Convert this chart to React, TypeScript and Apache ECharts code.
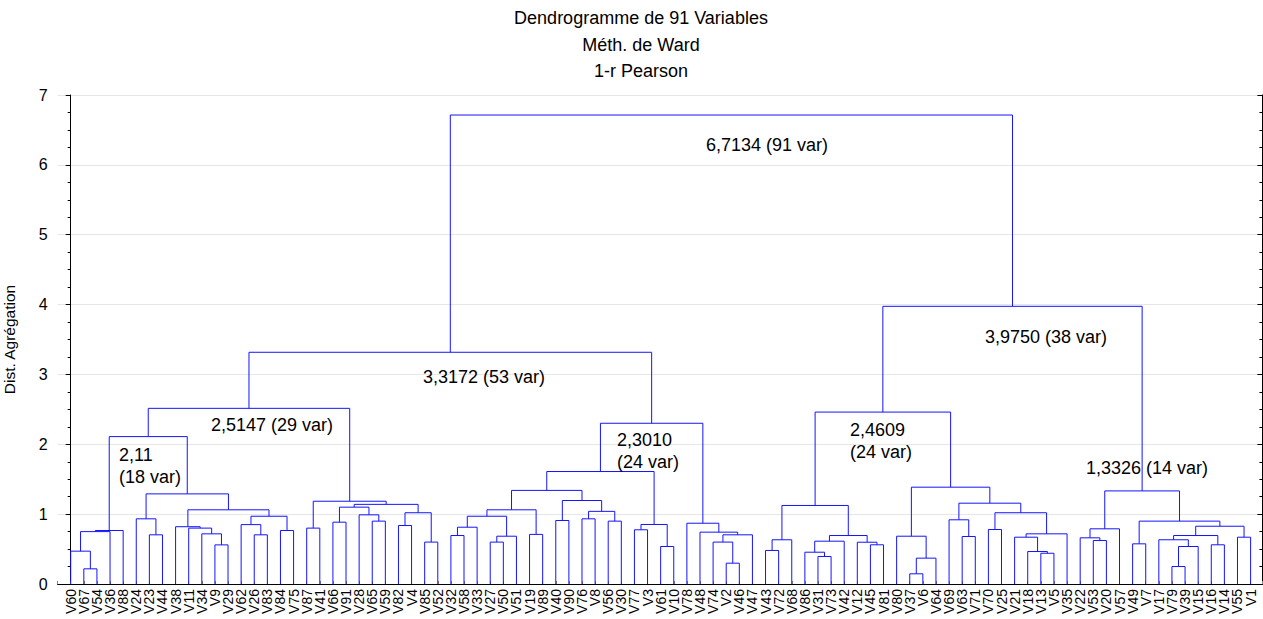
import React, { useEffect, useRef } from "react";
import * as echarts from "echarts";

// Leaf labels, in display order (left to right)
const leafLabels: string[] = [
  "V60", "V67", "V54", "V36", "V88", "V24", "V23", "V44", "V38", "V11",
  "V34", "V9", "V29", "V62", "V26", "V83", "V84", "V75", "V87", "V41",
  "V66", "V91", "V28", "V65", "V59", "V82", "V4", "V85", "V52", "V32",
  "V58", "V33", "V27", "V50", "V51", "V19", "V89", "V40", "V90", "V76",
  "V8", "V56", "V30", "V77", "V3", "V61", "V10", "V78", "V48", "V74",
  "V2", "V46", "V47", "V43", "V72", "V68", "V86", "V31", "V73", "V42",
  "V12", "V45", "V81", "V80", "V37", "V6", "V64", "V69", "V63", "V71",
  "V70", "V25", "V21", "V18", "V13", "V5", "V35", "V22", "V53", "V20",
  "V57", "V49", "V7", "V17", "V79", "V39", "V15", "V16", "V14", "V55",
  "V1",
];

// Merges: children ids (0..90 = leaves, 91+k = merge k) and linkage heights
const mergePairs: [number, number][] = [
  [1, 2], [0, 91], [92, 3], [93, 4],
  [6, 7], [5, 95],
  [11, 12], [10, 97], [9, 98], [8, 99],
  [14, 15], [13, 101], [16, 17], [102, 103], [100, 104], [96, 105], [94, 106],
  [18, 19], [20, 21], [23, 24], [22, 110], [109, 111], [25, 26], [27, 28],
  [113, 114], [112, 115], [108, 116], [107, 117],
  [29, 30], [119, 31], [32, 33], [121, 34], [120, 122], [35, 36], [123, 124],
  [37, 38], [39, 40], [41, 42], [127, 128], [126, 129], [125, 130],
  [43, 44], [45, 46], [132, 133], [131, 134],
  [50, 51], [49, 136], [137, 52], [48, 138], [47, 139], [135, 140], [118, 141],
  [53, 54], [143, 55], [57, 58], [56, 145], [146, 59], [61, 62], [60, 148],
  [147, 149], [144, 150],
  [64, 65], [152, 66], [63, 153], [68, 69], [67, 155], [70, 71], [74, 75],
  [73, 158], [72, 159], [160, 76], [157, 161], [156, 162], [154, 163], [151, 164],
  [78, 79], [77, 166], [167, 80], [81, 82], [84, 85], [170, 86], [83, 171],
  [87, 88], [172, 173], [89, 90], [174, 175], [169, 176], [168, 177],
  [165, 178], [142, 179],
];

const mergeHeights: number[] = [
  0.217, 0.47, 0.75, 0.766,
  0.704, 0.933,
  0.56, 0.718, 0.80, 0.82,
  0.704, 0.85, 0.766, 0.97, 1.062, 1.29, 2.11,
  0.80, 0.885, 0.90, 0.99, 1.10, 0.837, 0.60,
  1.02, 1.14, 1.185, 2.5147,
  0.694, 0.813, 0.60, 0.684, 0.97, 0.71, 1.062,
  0.909, 0.933, 0.90, 1.04, 1.195, 1.34,
  0.776, 0.537, 0.852, 1.61,
  0.298, 0.60, 0.704, 0.742, 0.87, 2.301, 3.3172,
  0.48, 0.633, 0.394, 0.455, 0.613, 0.561, 0.598,
  0.694, 1.124,
  0.146, 0.37, 0.684, 0.68, 0.919, 0.78, 0.44,
  0.465, 0.67, 0.718, 1.02, 1.157, 1.386, 2.4609,
  0.623, 0.661, 0.79, 0.575, 0.25, 0.537, 0.633,
  0.561, 0.694, 0.67, 0.827, 0.90, 1.3326,
  3.975, 6.7134,
];

const titleLines = ["Dendrogramme de 91 Variables", "Méth. de Ward", "1-r Pearson"];
const yAxisName = "Dist. Agrégation";
const annotationTexts = [
  "6,7134 (91 var)",
  "3,9750 (38 var)",
  "3,3172 (53 var)",
  "2,5147 (29 var)",
  "2,3010\n(24 var)",
  "2,4609\n(24 var)",
  "2,11\n(18 var)",
  "1,3326 (14 var)",
];

const FONT = "'Liberation Sans', Arial, sans-serif";

export default function App() {
  const ref = useRef<HTMLDivElement>(null);

  useEffect(() => {
    if (!ref.current) return;
    const chart = echarts.init(ref.current, null, { renderer: "svg" });

    const N = leafLabels.length;
    const pos: number[] = [];
    const hgt: number[] = [];
    for (let i = 0; i < N; i++) {
      pos.push(i);
      hgt.push(0);
    }
    const segs = mergePairs.map(([a, b], k) => {
      const h = mergeHeights[k];
      const d = [pos[a], pos[b], hgt[a], hgt[b], h];
      pos.push((pos[a] + pos[b]) / 2);
      hgt.push(h);
      return d;
    });

    const annPos: [number, number, string][] = [
      [767, 145, "center"],
      [1046, 337, "center"],
      [484, 377, "center"],
      [272, 425, "center"],
      [617, 451, "left"],
      [850, 441, "left"],
      [119, 466, "left"],
      [1086, 468, "left"],
    ];

    const graphics: any[] = [];
    titleLines.forEach((t, i) => {
      graphics.push({
        type: "text",
        x: 641,
        y: 18 + i * 26.5,
        style: {
          text: t,
          fill: "#000",
          font: `18px ${FONT}`,
          textAlign: "center",
          textVerticalAlign: "middle",
        },
      });
    });
    annotationTexts.forEach((t, i) => {
      const [x, y, align] = annPos[i];
      graphics.push({
        type: "text",
        x,
        y,
        z: 10,
        style: {
          text: t,
          fill: "#000",
          font: `18px ${FONT}`,
          textAlign: align,
          textVerticalAlign: "middle",
          lineHeight: 22,
        },
      });
    });

    chart.setOption({
      animation: false,
      grid: {
        left: 57.6,
        right: 0.6,
        top: 95,
        bottom: 35,
        containLabel: false,
        outerBoundsMode: "none",
      },
      xAxis: {
        type: "value",
        min: -1,
        max: 90.9,
        interval: 1,
        axisLine: { show: true, lineStyle: { color: "#000", width: 1 } },
        axisTick: { show: true, inside: true, length: 3, lineStyle: { color: "#888" } },
        splitLine: { show: false },
        axisLabel: {
          rotate: 90,
          fontSize: 14,
          color: "#000",
          fontFamily: FONT,
          margin: 5,
          showMinLabel: true,
          showMaxLabel: true,
          hideOverlap: false,
          formatter: (v: number) => {
            const i = Math.round(v);
            return Math.abs(v - i) < 1e-6 && i >= 0 && i < N ? leafLabels[i] : "";
          },
        },
      },
      yAxis: [
        {
          type: "value",
          min: 0,
          max: 7,
          interval: 1,
          name: yAxisName,
          nameLocation: "middle",
          nameRotate: 90,
          nameGap: 40,
          nameTextStyle: { fontSize: 15.5, color: "#000", fontFamily: FONT },
          axisLine: { show: true, lineStyle: { color: "#000" } },
          axisTick: { show: true, length: 5, lineStyle: { color: "#000" } },
          minorTick: { show: true, splitNumber: 4, length: 3, lineStyle: { color: "#000" } },
          axisLabel: { fontSize: 16, color: "#000", fontFamily: FONT, margin: 10 },
          splitLine: { show: true, lineStyle: { color: "#e6e6e6", width: 1 } },
        },
        {
          type: "value",
          position: "right",
          min: 0,
          max: 7,
          interval: 1,
          axisLine: { show: true, lineStyle: { color: "#000" } },
          axisTick: { show: true, inside: true, length: 5, lineStyle: { color: "#000" } },
          minorTick: { show: true, splitNumber: 4, length: 3, lineStyle: { color: "#000" } },
          axisLabel: { show: false },
          splitLine: { show: false },
        },
      ],
      series: [
        {
          type: "custom",
          coordinateSystem: "cartesian2d",
          xAxisIndex: 0,
          yAxisIndex: 0,
          encode: { x: [0, 1], y: [2, 3, 4] },
          data: segs,
          silent: true,
          renderItem: (params: any, api: any) => {
            const x1 = api.value(0);
            const x2 = api.value(1);
            const y1 = api.value(2);
            const y2 = api.value(3);
            const ym = api.value(4);
            const pts = [
              api.coord([x1, y1]),
              api.coord([x1, ym]),
              api.coord([x2, ym]),
              api.coord([x2, y2]),
            ];
            return {
              type: "polyline",
              shape: { points: pts },
              style: { stroke: "#1414ff", fill: "none", lineWidth: 1 },
            };
          },
        },
      ],
      graphic: graphics,
    });

    return () => chart.dispose();
  }, []);

  return (
    <div
      ref={ref}
      style={{ position: "fixed", left: 0, top: 0, width: 1263, height: 619, background: "#fff" }}
    />
  );
}
